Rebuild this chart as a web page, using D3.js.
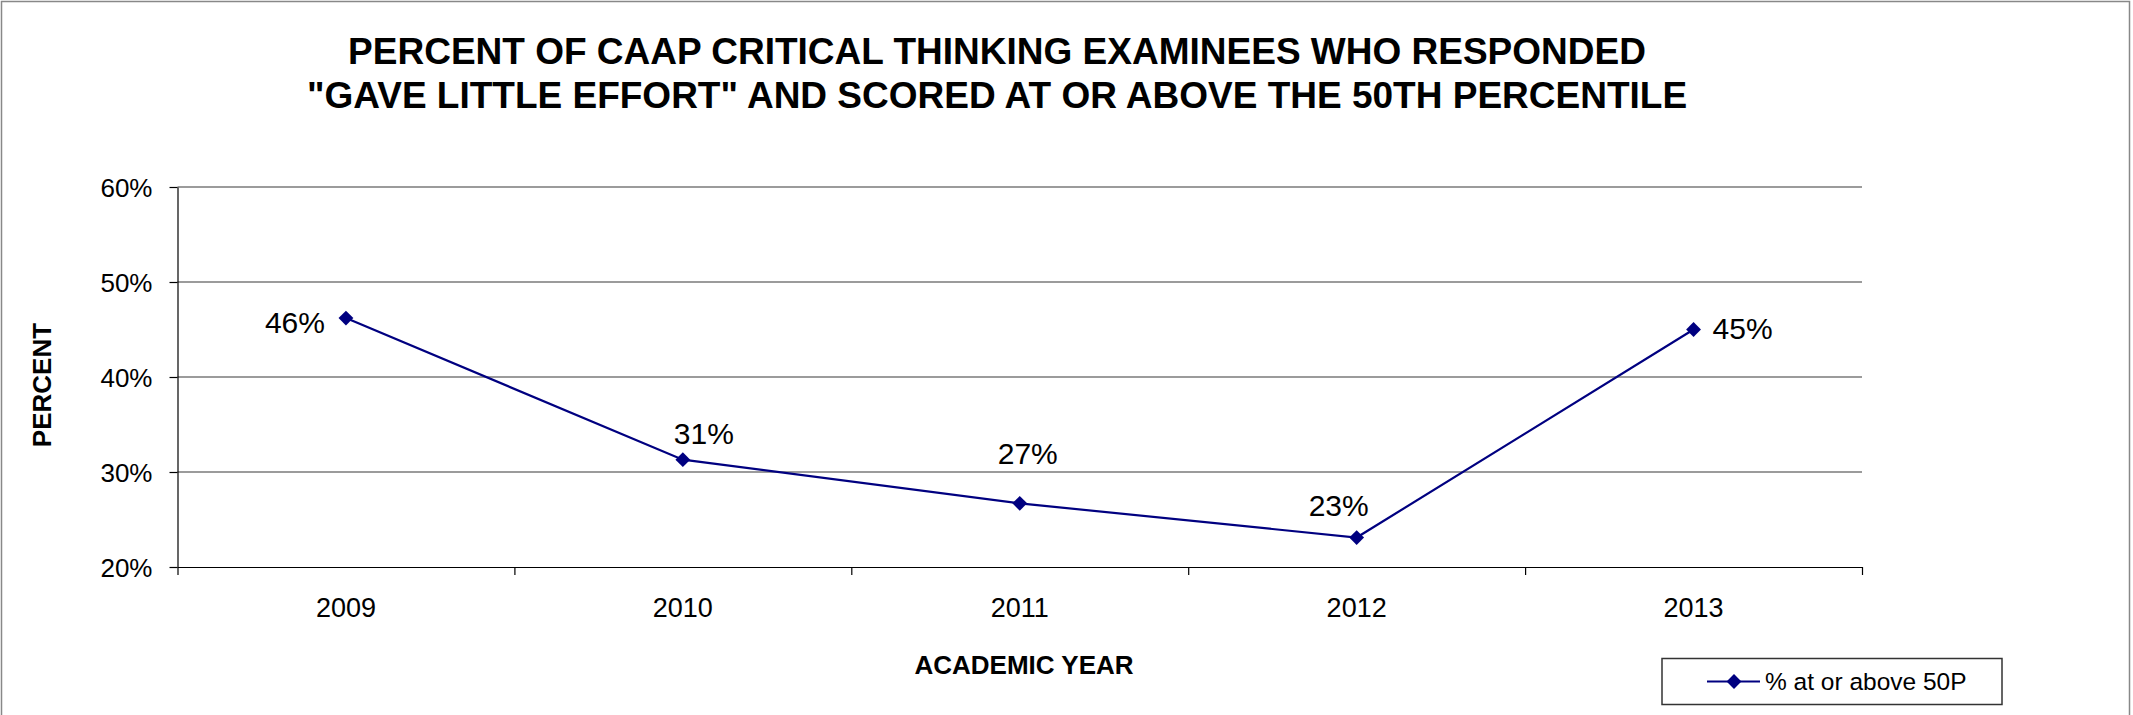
<!DOCTYPE html>
<html lang="en">
<head>
  <meta charset="UTF-8">
  <title>CAAP Critical Thinking - Gave Little Effort</title>
  <script src="https://d3js.org/d3.v7.min.js"></script>
  <style>
    body { margin: 0; background: #fff; }
    svg { font-family: "Liberation Sans", Arial, sans-serif; }
    .grid line { stroke: #7a7a7a; stroke-width: 1.6px; }
    .axis path, .axis line { stroke: #000; stroke-width: 1.2px; }
    .axis text { fill: #000; }
    .title { font-size: 37px; font-weight: bold; }
    .axis-title { font-size: 26px; font-weight: bold; }
    .label { font-size: 30px; }
  </style>
</head>
<body>
  <svg id="chart"></svg>
  <script>
    // chart data
    const years = ["2009", "2010", "2011", "2012", "2013"];
    const pctAbove50 = [0.462, 0.313, 0.267, 0.231, 0.450];
    const yTicks = [0.2, 0.3, 0.4, 0.5, 0.6];
    const seriesName = "% at or above 50P";
    // where each data label sits relative to its point (dx, dy, anchor)
    const labelOffsets = [[-21, 15, "end"], [21, -16, "middle"], [8, -39, "middle"], [-18, -22, "middle"], [19, 9, "start"]];

    const width = 2133, height = 715;
    const svg = d3.select("#chart").attr("width", width).attr("height", height);

    // outer chart frame
    svg.append("rect")
      .attr("x", 1.5).attr("y", 1.5)
      .attr("width", 2128).attr("height", 730)
      .attr("fill", "none").attr("stroke", "#888").attr("stroke-width", 1.5);

    const plotLeft = 177.5, plotRight = 1862, plotTop = 187, plotBottom = 567;

    const x = d3.scaleLinear().domain([0, years.length]).range([plotLeft, plotRight]);
    const y = d3.scaleLinear().domain([0.2, 0.6]).range([plotBottom, plotTop]);

    // title
    const title = svg.append("text").attr("class", "title").attr("text-anchor", "middle");
    title.append("tspan").attr("x", 997).attr("y", 64)
      .text("PERCENT OF CAAP CRITICAL THINKING EXAMINEES WHO RESPONDED");
    title.append("tspan").attr("x", 997).attr("y", 108)
      .text("\"GAVE LITTLE EFFORT\" AND SCORED AT OR ABOVE THE 50TH PERCENTILE");

    // horizontal gridlines
    svg.append("g").attr("class", "grid")
      .selectAll("line")
      .data(yTicks.slice(1))
      .enter().append("line")
      .attr("x1", plotLeft).attr("x2", plotRight)
      .attr("y1", d => y(d)).attr("y2", d => y(d));

    // y axis
    svg.append("g").attr("class", "axis")
      .attr("transform", `translate(${plotLeft},0)`)
      .call(d3.axisLeft(y).tickValues(yTicks).tickFormat(d3.format(".0%")).tickSize(8).tickPadding(17).tickSizeOuter(0))
      .call(g => g.selectAll("text").attr("dy", "0.35em").style("font-size", "26px"));

    // x axis: ticks between categories, labels centred in each
    const xAxis = svg.append("g").attr("class", "axis")
      .attr("transform", `translate(0,${plotBottom})`)
      .call(d3.axisBottom(x).tickValues(d3.range(years.length + 1)).tickFormat("").tickSize(8).tickSizeOuter(0));
    xAxis.selectAll(".cat")
      .data(years)
      .enter().append("text")
      .attr("class", "cat")
      .attr("x", (d, i) => x(i + 0.5))
      .attr("y", 50)
      .attr("text-anchor", "middle")
      .style("font-size", "27px")
      .text(d => d);

    // axis titles
    svg.append("text").attr("class", "axis-title")
      .attr("text-anchor", "middle")
      .attr("transform", "translate(51,385) rotate(-90)")
      .text("PERCENT");
    svg.append("text").attr("class", "axis-title")
      .attr("text-anchor", "middle")
      .attr("x", 1024).attr("y", 674)
      .text("ACADEMIC YEAR");

    // line
    const line = d3.line()
      .x((d, i) => x(i + 0.5))
      .y(d => y(d));
    svg.append("path")
      .datum(pctAbove50)
      .attr("d", line)
      .attr("fill", "none")
      .attr("stroke", "#000080")
      .attr("stroke-width", 2.2);

    // diamond markers
    const diamond = d3.symbol().type(d3.symbolSquare).size(110);
    svg.selectAll(".pt")
      .data(pctAbove50)
      .enter().append("path")
      .attr("class", "pt")
      .attr("d", diamond)
      .attr("fill", "#000080")
      .attr("transform", (d, i) => `translate(${x(i + 0.5)},${y(d)}) rotate(45)`);

    // data labels
    svg.selectAll(".label")
      .data(pctAbove50)
      .enter().append("text")
      .attr("class", "label")
      .attr("x", (d, i) => x(i + 0.5) + labelOffsets[i][0])
      .attr("y", (d, i) => y(d) + labelOffsets[i][1])
      .attr("text-anchor", (d, i) => labelOffsets[i][2])
      .text(d => d3.format(".0%")(d));

    // legend
    const legend = svg.append("g").attr("transform", "translate(1662,658.5)");
    legend.append("rect")
      .attr("width", 340).attr("height", 46)
      .attr("fill", "#fff").attr("stroke", "#333").attr("stroke-width", 1.5);
    legend.append("line")
      .attr("x1", 45).attr("x2", 98).attr("y1", 23).attr("y2", 23)
      .attr("stroke", "#000080").attr("stroke-width", 2.2);
    legend.append("path")
      .attr("d", diamond)
      .attr("fill", "#000080")
      .attr("transform", "translate(72,23) rotate(45)");
    legend.append("text")
      .attr("x", 103).attr("y", 23).attr("dy", "0.35em")
      .style("font-size", "24.5px")
      .text(seriesName);
  </script>
</body>
</html>
